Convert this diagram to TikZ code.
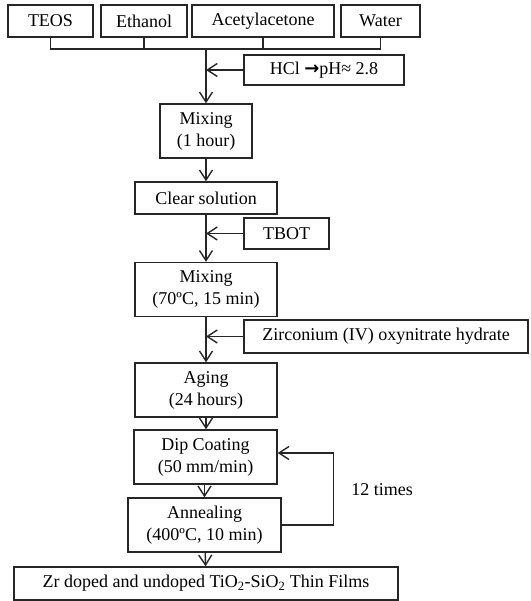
\documentclass[tikz,border=0pt]{standalone}
\usepackage{fontspec}
\setmainfont{Liberation Serif}
\newfontfamily\arrowfont{DejaVu Sans}
\usetikzlibrary{arrows.meta}

\begin{document}
\begin{tikzpicture}[
  x=1pt, y=-1pt,
  box/.style={draw=black!85, line width=1.4pt, inner sep=0pt, minimum height=32pt, align=center, font=\fontsize{18}{22}\selectfont},
  tall/.style={box, minimum height=54pt},
  line/.style={draw=black!85, line width=1.4pt},
  flow/.style={line, -{Straight Barb[length=10pt, width=13pt, line width=1.4pt]}}
]
\useasboundingbox (0,0) rectangle (530,601);

\node[box, minimum width=85pt] (teos) at (50.5,21) {TEOS};
\node[box, minimum width=86pt] (ethanol) at (144,21) {Ethanol};
\node[box, minimum width=142pt] (acac) at (263,21) {Acetylacetone};
\node[box, minimum width=79pt] (water) at (380.5,21) {Water};
\node[box, minimum width=160pt, minimum height=30pt] (hcl) at (324,70) {HCl {\arrowfont\bfseries →}pH≈ 2.8};
\node[tall, minimum width=92pt] (mix1) at (206,131) {Mixing\\(1 hour)};
\node[box, minimum width=142pt] (clear) at (206,198) {Clear solution};
\node[box, minimum width=85pt, minimum height=31pt] (tbot) at (286.5,233.5) {TBOT};
\node[tall, minimum width=142pt] (mix2) at (206,289.5) {Mixing\\(70ºC, 15 min)};
\node[box, minimum width=284pt, minimum height=33pt] (zirc) at (386,336.5) {Zirconium (IV) oxynitrate hydrate};
\node[tall, minimum width=142pt] (aging) at (206,390) {Aging\\(24 hours)};
\node[tall, minimum width=143pt] (dip) at (205.5,457) {Dip Coating\\(50 mm/min)};
\node[tall, minimum width=153pt] (anneal) at (204.5,525) {Annealing\\(400ºC, 10 min)};
\node[box, minimum width=384pt, minimum height=33pt] (films) at (206,583.5) {Zr doped and undoped TiO\textsubscript{2}-SiO\textsubscript{2} Thin Films};
\node[font=\fontsize{18}{22}\selectfont] (times) at (382,490) {12 times};

% raw materials joined on one bus
\coordinate (bus) at (206,49);
\draw[line] (teos.south) -- (teos.south |- bus) -- (water.south |- bus) -- (water.south);
\draw[line] (ethanol.south) -- (ethanol.south |- bus);
\draw[line] (acac.south) -- (acac.south |- bus);
\draw[flow] (bus) -- (mix1.north);
\draw[flow] (hcl.west) -- (hcl.west -| bus);

\draw[flow] (mix1) -- (clear);
\draw[flow] (clear) -- (mix2);
\draw[flow] (tbot.west) -- (tbot.west -| clear.south);
\draw[flow] (mix2) -- (aging);
\draw[flow] (zirc.west) -- (zirc.west -| mix2.south);
\draw[flow] (aging) -- (dip.north -| aging.south);
\draw[flow] (dip.south -| anneal.north) -- (anneal.north);
\draw[flow] (anneal) -- (films);

% repeat loop
\draw[flow] (anneal.east) -- ++(52,0) |- ([yshift=4pt]dip.east);
\end{tikzpicture}
\end{document}
